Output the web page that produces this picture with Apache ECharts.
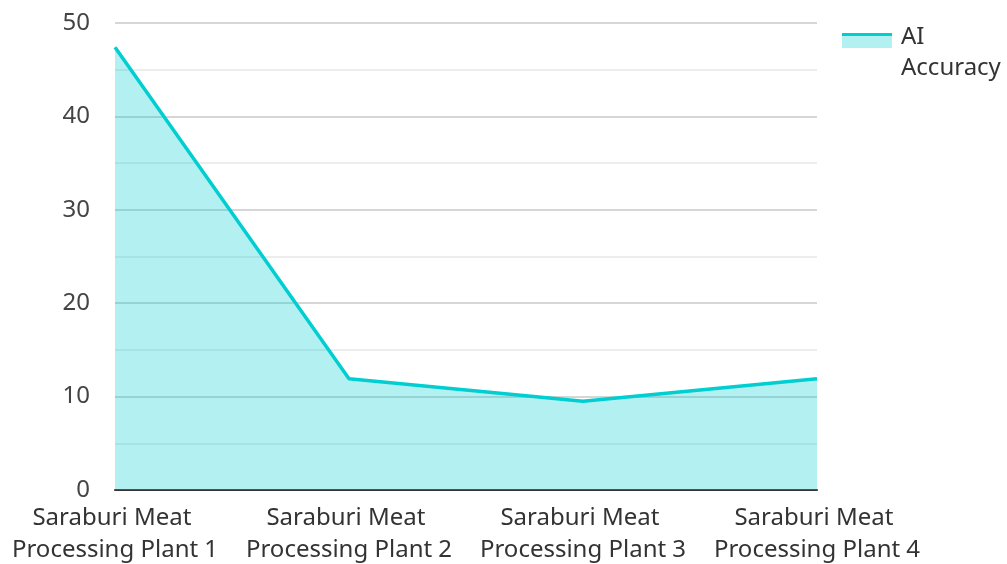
<!DOCTYPE html>
<html>
<head>
<meta charset="utf-8">
<script src="https://cdn.jsdelivr.net/npm/echarts@6/dist/echarts.min.js"></script>
<style>html,body{margin:0;padding:0;background:#fff}#c{width:1007px;height:564px}</style>
</head>
<body>
<div id="c"></div>
<script>
const categories = ["Saraburi Meat Processing Plant 1", "Saraburi Meat Processing Plant 2", "Saraburi Meat Processing Plant 3", "Saraburi Meat Processing Plant 4"];
const seriesName = "AI Accuracy";
const values = [47.4, 11.9, 9.5, 11.9];
const yTicks = [0, 10, 20, 30, 40, 50];

const chart = echarts.init(document.getElementById('c'));
const font = "'Noto Sans', sans-serif";
chart.setOption({
  animation: false,
  textStyle: { fontFamily: font },
  grid: { left: 115, right: 190, top: 23, bottom: 74, containLabel: false, outerBoundsMode: 'none' },
  legend: {
    left: 842, top: 22, padding: 0,
    itemWidth: 50, itemHeight: 15,
    icon: 'rect',
    data: [{ name: seriesName, itemStyle: { color: 'rgba(0,0,0,0)' } }],
    textStyle: { fontSize: 24, color: '#333', fontFamily: font, width: 115, overflow: 'break', lineHeight: 31, verticalAlign: 'top', padding: [0, 0, 0, 4] }
  },
  graphic: [{
    type: 'rect', left: 842, top: 33, z: 100,
    shape: { width: 50, height: 15 },
    style: { fill: '#b2f0f1' }, silent: true
  }, {
    type: 'rect', left: 842, top: 33, z: 101,
    shape: { width: 50, height: 3 },
    style: { fill: '#00CED1' }, silent: true
  }],
  xAxis: {
    type: 'category', data: categories, boundaryGap: false,
    axisLine: { lineStyle: { color: '#333', width: 2 } },
    axisTick: { show: false },
    axisLabel: { fontSize: 24, color: '#333', fontFamily: font, margin: 12, width: 240, overflow: 'break', lineHeight: 32, interval: 0 },
    splitLine: { show: false }
  },
  yAxis: {
    type: 'value', min: yTicks[0], max: yTicks[yTicks.length - 1], interval: 10,
    axisLine: { show: false }, axisTick: { show: false },
    axisLabel: { fontSize: 24, color: '#444', fontFamily: font, margin: 25 },
    splitLine: { lineStyle: { color: '#c8c8c8', width: 1.5 } },
    minorTick: { show: false, splitNumber: 2 },
    minorSplitLine: { show: true, lineStyle: { color: '#e8e8e8', width: 1.5 } }
  },
  series: [{
    name: seriesName, type: 'line', data: values,
    showSymbol: false, symbol: 'none',
    lineStyle: { color: '#00CED1', width: 3.5 },
    itemStyle: { color: '#00CED1' },
    areaStyle: { color: '#00CED1', opacity: 0.3 }
  }]
});
</script>
</body>
</html>
